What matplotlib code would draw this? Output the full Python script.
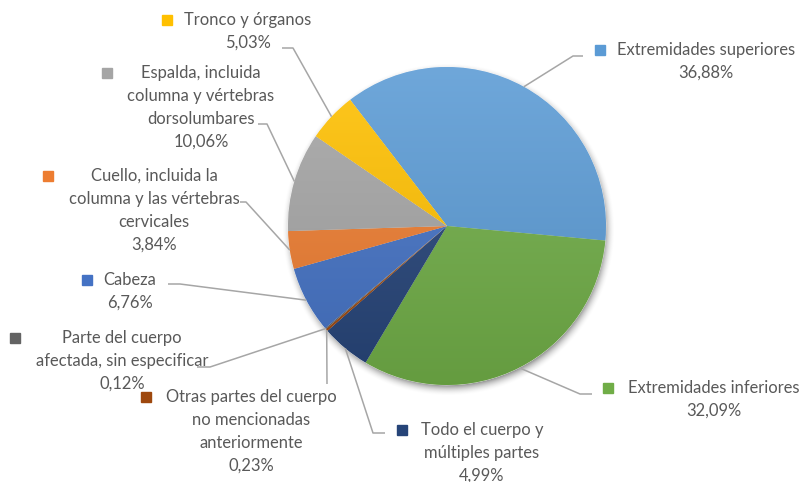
import matplotlib.pyplot as plt
import numpy as np
from matplotlib.colors import to_rgb
from matplotlib.patches import Rectangle

W, H = 809, 482  # canvas in pixels

# partes del cuerpo lesionadas (%), en el orden en que se dibujan
labels = ['Extremidades superiores',
          'Extremidades inferiores',
          'Todo el cuerpo y\nmúltiples partes',
          'Otras partes del cuerpo\nno mencionadas\nanteriormente',
          'Parte del cuerpo\nafectada, sin especificar',
          'Cabeza',
          'Cuello, incluida la\ncolumna y las vértebras\ncervicales',
          'Espalda, incluida\ncolumna y vértebras\ndorsolumbares',
          'Tronco y órganos']
pct = [36.88, 32.09, 4.99, 0.23, 0.12, 6.76, 3.84, 10.06, 5.03]
colors = ['#5B9BD5', '#70AD47', '#264478', '#9E480E', '#636363',
          '#4472C4', '#ED7D31', '#A5A5A5', '#FFC000']

# label layout in pixels: text centre x, first line y, marker x, leader start, elbow
layout = [
    (706, 50, 600, (583, 56), (573, 56)),
    (714, 388, 608, (592, 394), (580, 394)),
    (482, 430, 402, (385, 433), (373, 433)),
    (251, 397, 146, (327, 384), (327, 384)),
    (122, 338, 15, (197, 367), (210, 367)),
    (130, 280, 87, (168, 284), (180, 284)),
    (154, 176, 48, (240, 202), (246, 202)),
    (201, 73, 107, (258, 124), (267, 124)),
    (248, 20, 167, (282, 48), (293, 48)),
]

CX, CY, R = 447, H - 226, 159
PITCH = 23
TXT = '#595959'
LEAD = '#A6A6A6'

plt.rcParams['font.family'] = ['Lato', 'DejaVu Sans']

fig = plt.figure(figsize=(W / 100, H / 100), dpi=100)
ax = fig.add_axes([0, 0, 1, 1])
ax.axis('off')

# soft shadow under the pie
gx, gy = np.meshgrid(np.arange(CX - R - 20, CX + R + 20),
                     np.arange(CY + R + 20, CY - R - 20, -1))
d = np.hypot(gx - CX - 1, gy - (CY - 3))
a = np.clip(1 - (d - R + 3) / 11, 0, 1) ** 2 * 0.4
shadow = np.zeros(d.shape + (4,))
shadow[..., 3] = a
ax.imshow(shadow, extent=(CX - R - 20, CX + R + 20, CY - R - 20, CY + R + 20),
          zorder=0, interpolation='bilinear')

wedges, _ = ax.pie(pct, colors=colors, startangle=127.5, counterclock=False,
                   center=(CX, CY), radius=R, frame=True,
                   wedgeprops=dict(linewidth=0.4, edgecolor='white'))

# light-to-dark vertical gradient on every slice
ys = np.linspace(0, 1, 256)[:, None, None]
for w, c in zip(wedges, colors):
    base = np.array(to_rgb(c))
    top = base + (1 - base) * 0.12
    bot = base * 0.9
    grad = top * (1 - ys) + bot * ys
    im = ax.imshow(grad, extent=(CX - R, CX + R, CY - R, CY + R),
                   zorder=2, interpolation='bilinear')
    im.set_clip_path(w)

for w, lab, p, c, (tx, ty, mx, start, elbow) in zip(wedges, labels, pct, colors, layout):
    lines = lab.split('\n') + [f'{p:.2f}'.replace('.', ',') + '%']
    for i, ln in enumerate(lines):
        ax.text(tx, H - (ty + i * PITCH), ln, ha='center', va='center',
                fontsize=11.9, color=TXT, zorder=5)
    ax.add_patch(Rectangle((mx - 5, H - ty - 5), 10, 10, color=c, zorder=5))

    mid = np.deg2rad((w.theta1 + w.theta2) / 2)
    ex, ey = CX + R * np.cos(mid), CY + R * np.sin(mid)
    ax.plot([start[0], elbow[0], ex], [H - start[1], H - elbow[1], ey],
            color=LEAD, lw=1.1, zorder=4, solid_capstyle='butt')

ax.set_xlim(0, W)
ax.set_ylim(0, H)
ax.set_aspect('auto')

fig.savefig('out.png', dpi=100, facecolor='white')
